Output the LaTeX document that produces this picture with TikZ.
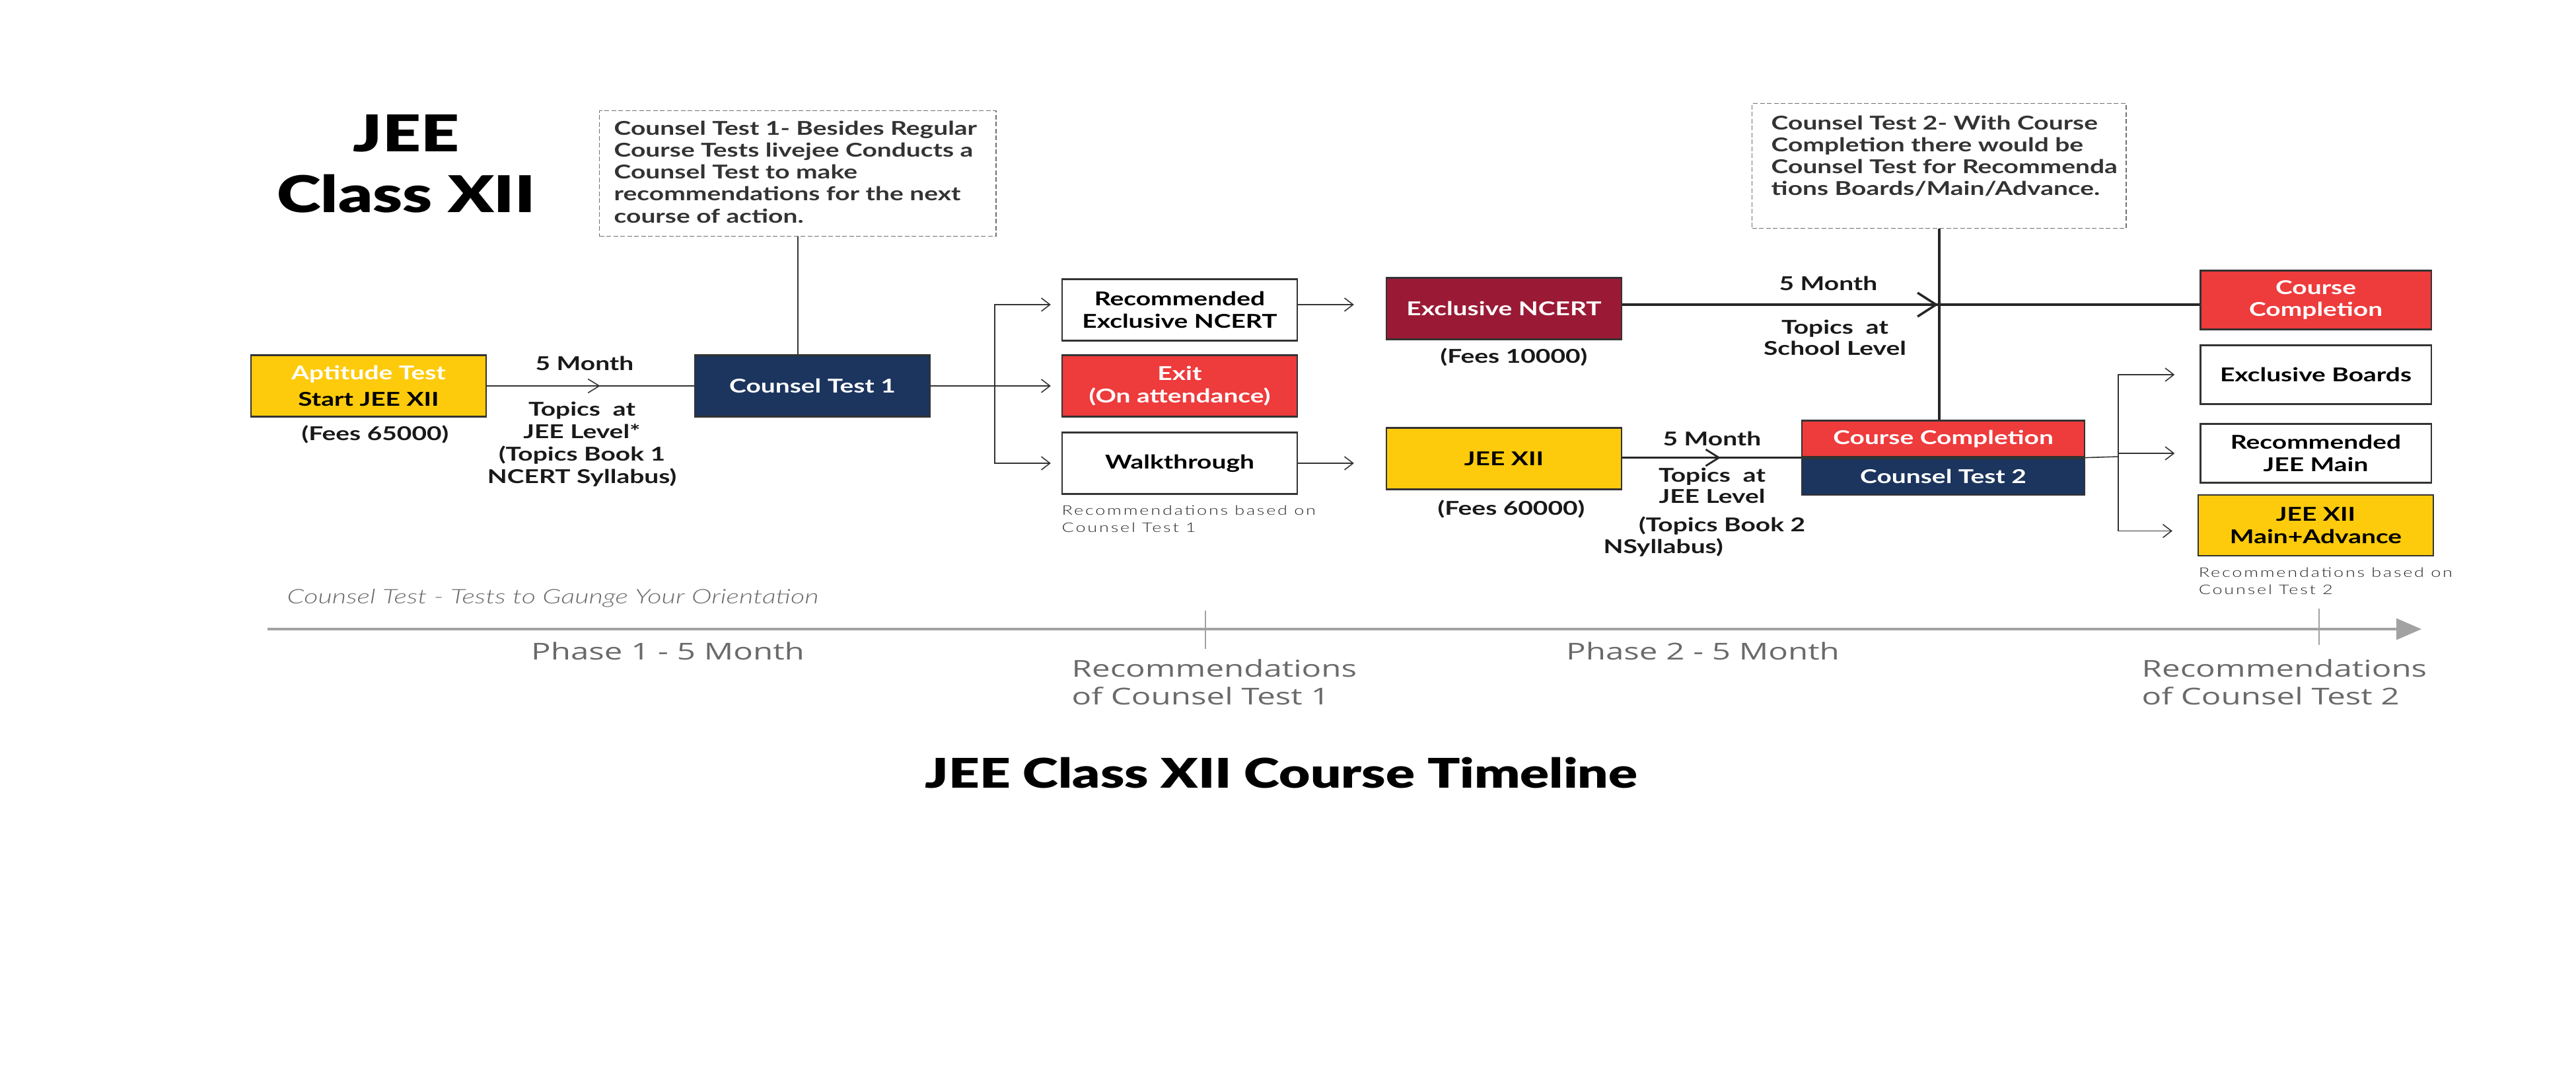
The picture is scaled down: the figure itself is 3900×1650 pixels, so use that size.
\documentclass[tikz,border=0pt]{standalone}
\usepackage{fontspec}
\setmainfont{Lato}[FakeStretch=1.35]
\newfontfamily\heavyfont{Lato Black}[FakeStretch=1.32]
\newfontfamily\lightfont{Lato Light}[FakeStretch=1.35,LetterSpace=14]
\newfontfamily\lightitfont{Lato Light Italic}[FakeStretch=1.37]
\newfontfamily\axisfont{Open Sans}[FakeStretch=1.4]
\usetikzlibrary{arrows.meta,decorations.markings,positioning}

\definecolor{jeeyellow}{HTML}{FDCB0B}
\definecolor{jeenavy}{HTML}{1C355E}
\definecolor{jeered}{HTML}{EE3B3C}
\definecolor{jeemaroon}{HTML}{9A1A36}
\definecolor{edgegray}{HTML}{333333}
\definecolor{notegray}{HTML}{707070}
\definecolor{axisgray}{HTML}{A2A2A2}
\definecolor{labelgray}{HTML}{6A6A6A}

\newcommand{\boxtxt}{\bfseries\fontsize{8.2}{9.5}\selectfont}
\newcommand{\lbltxt}{\bfseries\fontsize{8.2}{9.75}\selectfont}
\newcommand{\notetxt}{\bfseries\fontsize{8.2}{9.45}\selectfont}
\newcommand{\smalltxt}{\lightfont\fontsize{5.7}{7.5}\selectfont}
\newcommand{\axistxt}{\axisfont\fontsize{10}{11.9}\selectfont}

\tikzset{
  chevs/.tip={Straight Barb[length=1.7mm,width=2.1mm]},
  chevm/.tip={Straight Barb[length=2mm,width=2.5mm]},
  chevl/.tip={Straight Barb[length=2.8mm,width=3.6mm]}
}

\begin{document}
\begin{tikzpicture}[x=0.01cm,y=-0.01cm,>={Straight Barb[length=1.3mm,width=2mm]},
  stage box/.style={draw=edgegray,line width=0.6pt,minimum width=3.56cm,minimum height=0.93cm,
    inner sep=0pt,align=center,font=\boxtxt},
  side box/.style={stage box,minimum width=3.49cm,minimum height=0.89cm},
  note box/.style={draw=notegray,line width=0.35pt,dash pattern=on 0.7mm off 0.35mm},
  note text/.style={anchor=north west,inner sep=0pt,align=left,font=\notetxt,text=edgegray},
  step label/.style={inner sep=0pt,align=center,font=\lbltxt,text=black!90},
  small note/.style={inner sep=0pt,anchor=north west,align=left,font=\smalltxt,text=black!85},
  axis label/.style={inner sep=0pt,align=left,font=\axistxt,text=labelgray},
  link/.style={draw=edgegray,line width=0.45pt},
  main link/.style={draw=black!85,line width=1pt},
  mid arrow/.style 2 args={postaction={decorate},
    decoration={markings,mark=at position #1 with {\arrow{#2}}}}]

\useasboundingbox (0,0) rectangle (3900,1650);

% heading
\node[inner sep=0pt,anchor=north,align=center,font={\heavyfont\fontsize{21.8}{26.2}\selectfont}] (head) at (615,173) {JEE\\Class XII};

% phase 1
\node[stage box,fill=jeeyellow,text=white,font={\bfseries\fontsize{8.2}{11.4}\selectfont}] (apt) at (558,584) {Aptitude Test\\\textcolor{black}{Start JEE XII}};
\node[step label] (fees1) at (568,657) {(Fees 65000)};
\node[stage box,fill=jeenavy,text=white] (ct1) at (1230,584) {Counsel Test 1};
\node[step label] (month1) at (885,550) {5 Month};
\node[step label,anchor=north] (topics1) at (881,607) {Topics~ at\\JEE Level*\\(Topics Book 1\\NCERT Syllabus)};

\node[note box,minimum width=6cm,minimum height=1.9cm,anchor=north west] (note1) at (907,167) {};
\node[note text] (note1txt) at (929,182) {Counsel Test 1- Besides Regular\\Course Tests livejee Conducts a\\Counsel Test to make\\recommendations for the next\\course of action.};

% recommendations after counsel test 1
\node[stage box,fill=white] (recN) at (1786,469) {Recommended\\Exclusive NCERT};
\node[stage box,fill=jeered,text=white] (exitB) at (1786,584) {Exit\\(On attendance)};
\node[stage box,fill=white] (walk) at (1786,701) {Walkthrough};
\node[small note] (rec1) at (1607,764) {Recommendations based on\\Counsel Test 1};

% phase 2
\node[stage box,fill=jeemaroon,text=white] (exN) at (2277,467) {Exclusive NCERT};
\node[step label] (fees2) at (2292,540) {(Fees 10000)};
\node[stage box,fill=jeeyellow] (jee) at (2277,694) {JEE XII};
\node[step label] (fees3) at (2288,770) {(Fees 60000)};

\node[step label] (month2) at (2592,664) {5 Month};
\node[step label,anchor=north,font={\bfseries\fontsize{8.2}{9.1}\selectfont}] (topics2) at (2592,707) {Topics~ at\\JEE Level};
\node[step label] (book2) at (2607,796) {(Topics Book 2};
\node[step label] (syl2) at (2518,829) {NSyllabus)};
\node[step label] (month3) at (2768,429) {5 Month};
\node[step label,anchor=north,font={\bfseries\fontsize{8.2}{9.25}\selectfont}] (topics3) at (2778,483) {Topics~ at\\School Level};

\node[note box,minimum width=5.66cm,minimum height=1.89cm,anchor=north west] (note2) at (2652,156) {};
\node[note text] (note2txt) at (2681,174) {Counsel Test 2- With Course\\Completion there would be\\Counsel Test for Recommenda\\tions Boards/Main/Advance.};

\node[stage box,fill=jeered,text=white,minimum width=4.28cm,minimum height=0.55cm] (cc2) at (2942,664) {Course Completion};
\node[stage box,fill=jeenavy,text=white,minimum width=4.28cm,minimum height=0.55cm,below=0pt of cc2] (ct2) {Counsel Test 2};

% recommendations after counsel test 2
\node[side box,fill=jeered,text=white] (ccR) at (3506,454) {Course\\Completion};
\node[side box,fill=white] (exB) at (3506,567) {Exclusive Boards};
\node[side box,fill=white] (recJ) at (3506,686) {Recommended\\JEE Main};
\node[side box,fill=jeeyellow,minimum width=3.56cm,minimum height=0.915cm] (jeeMA) at (3506,795) {JEE XII\\Main+Advance};
\node[small note] (rec2) at (3328,858) {Recommendations based on\\Counsel Test 2};

% connectors
\draw[link,mid arrow={0.547}{chevs}] (apt) -- (ct1);
\draw[link] (note1) -- (note1 |- ct1.north);
\coordinate (fork1) at (1506,584);
\draw[link] (ct1) -- (fork1);
\draw[link,->,shorten >=1.6mm] (fork1) |- ([yshift=0.8mm]recN.west);
\draw[link,->,shorten >=1.6mm] (fork1) -- (exitB);
\draw[link,->,shorten >=1.6mm] (fork1) |- (walk);
\draw[link,->,shorten >=4.8mm] ([yshift=0.8mm]recN.east) -- ([yshift=0.8mm]recN.east -| exN.west);
\draw[link,->,shorten >=4.8mm] (walk) -- (walk -| jee.west);

\draw[main link,mid arrow={0.547}{chevl}] ([yshift=0.6mm]exN.east) -- ([yshift=0.6mm]exN.east -| ccR.west);
\draw[main link] (note2) -- (note2 |- cc2.north);
\draw[main link,line width=0.8pt,mid arrow={0.55}{chevm}] (jee.east |- cc2.south) -- (cc2.south west);

\coordinate (fork2) at (3207,691);
\draw[link] (cc2.south east) -- (fork2);
\draw[link,->,shorten >=3.8mm] (fork2) |- (exB);
\draw[link,->,shorten >=3.8mm] (fork2) |- (recJ);
\draw[link,->,shorten >=3.8mm] (fork2) |- ([yshift=-0.85mm]jeeMA.west);

% timeline
\node[inner sep=0pt,anchor=base west,font={\lightitfont\fontsize{8.6}{10}\selectfont},text=labelgray] (orient) at (434,913) {Counsel Test - Tests to Gaunge Your Orientation};
\coordinate (tstart) at (405,952);
\coordinate (tend) at (3666,952);
\draw[draw=axisgray,line width=0.95pt,-{Triangle[length=3.8mm,width=3.2mm]}] (tstart) -- (tend);
\draw[axisgray,line width=0.5pt] (1825,924) -- (1825,982);
\draw[axisgray,line width=0.5pt] (3511,921) -- (3511,976);
\node[axis label,anchor=base] (phase1) at (1011,998) {Phase 1 - 5 Month};
\node[axis label,anchor=base] (phase2) at (2578,998) {Phase 2 - 5 Month};
\node[axis label,anchor=north west] (recT1) at (1622,997) {Recommendations\\of Counsel Test 1};
\node[axis label,anchor=north west] (recT2) at (3242,997) {Recommendations\\of Counsel Test 2};

\node[inner sep=0pt,anchor=base,font={\heavyfont\fontsize{17.6}{21}\selectfont}] (title) at (1940,1192) {JEE Class XII Course Timeline};
\end{tikzpicture}
\end{document}
